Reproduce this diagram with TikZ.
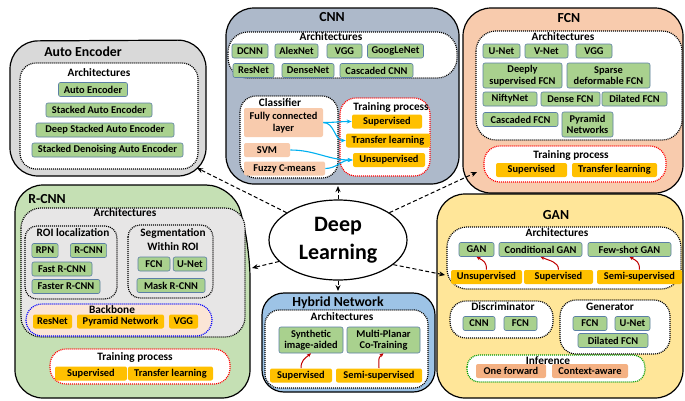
\documentclass[tikz,border=0pt]{standalone}
\usepackage{fontspec}
\setmainfont{Carlito}
\usetikzlibrary{arrows.meta,shapes.geometric}
\definecolor{aegrey}{HTML}{D9D9D9}
\definecolor{cnnblue}{HTML}{ADB9CA}
\definecolor{fcnpeach}{HTML}{F8CBAD}
\definecolor{rcnngreen}{HTML}{C5E0B4}
\definecolor{hybblue}{HTML}{9DC3E6}
\definecolor{ganyellow}{HTML}{FFE699}
\definecolor{boxgreen}{HTML}{A9D18E}
\definecolor{boxedge}{HTML}{5B7FA6}
\definecolor{boxorange}{HTML}{FFC000}
\definecolor{boxpeach}{HTML}{F8CBAD}
\definecolor{boxsalmon}{HTML}{F4B183}
\definecolor{roigrey}{HTML}{E7E6E6}
\definecolor{bbpeach}{HTML}{FBE5D6}
\definecolor{arrblue}{HTML}{00B0F0}
\definecolor{arrred}{HTML}{C00000}
\begin{document}
\begin{tikzpicture}[x=1pt, y=-1pt,
  blob/.style={draw=black, line width=1.2pt, rounded corners=28pt},
  region/.style={draw=black, line width=1.2pt, dash pattern=on 1pt off 1pt, fill=white, rounded corners=16pt},
  grn/.style={fill=boxgreen, draw=boxedge, line width=0.6pt, rounded corners=2pt, inner xsep=4pt, inner ysep=1.5pt, minimum height=14pt, align=center, font=\bfseries\fontsize{10.4}{11.5}\selectfont},
  org/.style={grn, draw=none, fill=boxorange},
  pch/.style={grn, draw=none, fill=boxpeach},
  sal/.style={grn, draw=none, fill=boxsalmon},
  ttl/.style={inner sep=0pt, align=center, font=\bfseries\fontsize{11.3}{14}\selectfont},
  bigttl/.style={inner sep=0pt, font=\bfseries\fontsize{13.8}{15}\selectfont},
  dlarr/.style={line width=1pt, dash pattern=on 4pt off 2.5pt, -{Stealth[length=6pt,width=5pt]}},
  bluearr/.style={arrblue, line width=1.1pt, -{Stealth[length=5pt,width=4pt]}},
  redarr/.style={arrred, line width=1pt, -{Stealth[length=4pt,width=3.5pt]}}]
\useasboundingbox (0,0) rectangle (685,400);
% blobs
\draw[blob, fill=aegrey] (10,41) -- (206,40) -- (206,176) -- (10,176) -- cycle;
\draw[blob, fill=cnnblue] (226,8) -- (459,8) -- (459,184) -- (226,184) -- cycle;
\draw[blob, fill=fcnpeach] (463,8) -- (683,8) -- (683,193) -- (463,193) -- cycle;
\draw[blob, fill=rcnngreen] (15,185) -- (234,185) -- (250,250) -- (250,398) -- (15,398) -- cycle;
\draw[blob, fill=hybblue, rounded corners=22pt] (262,293) -- (435,293) -- (435,392) -- (262,392) -- cycle;
\draw[blob, fill=ganyellow] (437,194) -- (683,194) -- (683,398) -- (437,398) -- cycle;
% dotted regions
\draw[region] (20,63) rectangle (198,169);
\draw[region, rounded corners=20pt] (228,32) rectangle (457,78);
\draw[region] (240,96) rectangle (338,178);
\draw[region, draw=red] (340,98) rectangle (430,176);
\draw[region, rounded corners=20pt] (476,31) rectangle (682,140);
\draw[region, draw=red] (484,146) rectangle (666,182);
\draw[region, fill=roigrey, rounded corners=20pt] (21,208) rectangle (245,337);
\draw[region, fill=roigrey, rounded corners=12pt] (25,226) rectangle (117,299);
\draw[region, fill=roigrey, rounded corners=12pt] (128,225) rectangle (213,298);
\draw[region, fill=bbpeach, draw=blue] (26,304) rectangle (212,336);
\draw[region, draw=red] (50,349) rectangle (230,384);
\draw[region, rounded corners=14pt] (265,310) rectangle (428,388);
\draw[region, rounded corners=20pt] (447,227) rectangle (681,289);
\draw[region] (450,301) rectangle (553,338);
\draw[region] (560,300) rectangle (670,354);
\draw[region, draw=green!60!black, rounded corners=12pt] (467,355) rectangle (645,382);
% Auto Encoder
\node[bigttl] (ae0) at (83,52) {Auto Encoder};
\node[ttl] (aeA) at (99,73) {Architectures};
\node[grn, minimum width=69pt] (ae1) at (93,89.5) {Auto Encoder};
\node[grn, minimum width=106pt] (ae2) at (99,110) {Stacked Auto Encoder};
\node[grn, minimum width=138pt] (ae3) at (105,130) {Deep Stacked Auto Encoder};
\node[grn, minimum width=151pt] (ae4) at (107.5,150) {Stacked Denoising Auto Encoder};
% CNN
\node[bigttl] (cnn0) at (332,17) {CNN};
\node[ttl] (cnnA) at (331,37) {Architectures};
\node[grn, minimum width=36pt] (cnn1) at (250,51) {DCNN};
\node[grn, minimum width=43pt] (cnn2) at (296.5,51) {AlexNet};
\node[grn, minimum width=35pt] (cnn3) at (344.5,51) {VGG};
\node[grn, minimum width=55pt] (cnn4) at (395.5,51) {GoogLeNet};
\node[grn, minimum width=41pt] (cnn5) at (253.5,70.5) {ResNet};
\node[grn, minimum width=52pt] (cnn6) at (308,70.5) {DenseNet};
\node[grn, minimum width=73pt] (cnn7) at (376.5,70.5) {Cascaded CNN};
\node[ttl] (clsA) at (280,103) {Classifier};
\node[pch, minimum width=79pt, minimum height=29pt] (cls1) at (283.5,122.5) {Fully connected\\layer};
\node[pch, minimum width=46pt] (cls2) at (267,150) {SVM};
\node[pch, minimum width=81pt] (cls3) at (284.5,168.5) {Fuzzy C-means};
\node[ttl] (trA) at (391,107) {Training process};
\node[org, minimum width=70pt] (tr1) at (387,121.5) {Supervised};
\node[org, minimum width=84pt] (tr2) at (388,140.5) {Transfer learning};
\node[org, minimum width=72pt] (tr3) at (389,160) {Unsupervised};
\draw[bluearr] (cls1.east) to[out=0,in=180] (tr1.west);
\draw[bluearr] (cls1.east) to[out=0,in=180] (tr2.west);
\draw[bluearr] (cls2.east) to[out=0,in=180] (tr3.west);
\draw[bluearr] (cls3.east) to[out=0,in=180] (tr3.west);
% FCN
\node[bigttl] (fcn0) at (569,18) {FCN};
\node[ttl] (fcnA) at (563,37) {Architectures};
\node[grn, minimum width=37pt] (fcn1) at (501.5,51) {U-Net};
\node[grn, minimum width=43pt] (fcn2) at (546.5,51) {V-Net};
\node[grn, minimum width=36pt] (fcn3) at (594,51) {VGG};
\node[grn, minimum width=79pt, minimum height=25pt] (fcn4) at (522.5,75.5) {Deeply\\supervised FCN};
\node[grn, minimum width=83pt, minimum height=25pt] (fcn5) at (608.5,75.5) {Sparse\\deformable FCN};
\node[grn, minimum width=54pt] (fcn6) at (510,99) {NiftyNet};
\node[grn, minimum width=59pt] (fcn7) at (570.5,99) {Dense FCN};
\node[grn, minimum width=65pt] (fcn8) at (634.5,99) {Dilated FCN};
\node[grn, minimum width=75pt] (fcn9) at (520.5,119.5) {Cascaded FCN};
\node[grn, minimum width=51pt, minimum height=25pt] (fcn10) at (587.5,124.5) {Pyramid\\Networks};
\node[ttl] (ftrA) at (571,155) {Training process};
\node[org, minimum width=71pt] (ftr1) at (531.5,170) {Supervised};
\node[org, minimum width=85pt] (ftr2) at (614.5,170) {Transfer learning};
% R-CNN
\node[bigttl] (rc0) at (47,199) {R-CNN};
\node[ttl] (rcA) at (125,213) {Architectures};
\node[ttl] (roiA) at (73,233) {ROI localization};
\node[grn, minimum width=26pt] (roi1) at (45,250.5) {RPN};
\node[grn, minimum width=33pt] (roi2) at (88.5,250.5) {R-CNN};
\node[grn, minimum width=60pt] (roi3) at (62,269) {Fast R-CNN};
\node[grn, minimum width=68pt] (roi4) at (66,286.5) {Faster R-CNN};
\node[ttl] (segA) at (173,240) {Segmentation\\Within ROI};
\node[grn, minimum width=32pt] (seg1) at (154,264) {FCN};
\node[grn, minimum width=30pt] (seg2) at (190,264) {U-Net};
\node[grn, minimum width=68pt] (seg3) at (171,285.5) {Mask R-CNN};
\node[ttl] (bbA) at (112,310) {Backbone};
\node[org, minimum width=39pt] (bb1) at (52.5,321.5) {ResNet};
\node[org, minimum width=87pt] (bb2) at (120.5,321.5) {Pyramid Network};
\node[org, minimum width=29pt] (bb3) at (183.5,321.5) {VGG};
\node[ttl] (rtrA) at (135,357) {Training process};
\node[org, minimum width=72pt] (rtr1) at (91,373.5) {Supervised};
\node[org, minimum width=85pt] (rtr2) at (170.5,373.5) {Transfer learning};
% Hybrid Network
\node[bigttl] (hy0) at (338,303) {Hybrid Network};
\node[ttl] (hyA) at (342,317) {Architectures};
\node[grn, minimum width=64pt, minimum height=26pt] (hy1) at (311,340) {Synthetic\\image-aided};
\node[grn, minimum width=73pt, minimum height=26pt] (hy2) at (383.5,340) {Multi-Planar\\Co-Training};
\node[org, minimum width=62pt] (hs1) at (301,375.5) {Supervised};
\node[org, minimum width=86pt] (hs2) at (379,375.5) {Semi-supervised};
\draw[redarr] (hs1.north) .. controls +(0,-8) and +(-6,5) .. (hy1.south);
\draw[redarr] (hs2.north) .. controls +(0,-8) and +(-6,5) .. (hy2.south);
% GAN
\node[bigttl] (gan0) at (556,215) {GAN};
\node[ttl] (ganA) at (557,233) {Architectures};
\node[grn, minimum width=35pt] (gan1) at (476.5,249.5) {GAN};
\node[grn, minimum width=83pt] (gan2) at (540.5,249.5) {Conditional GAN};
\node[grn, minimum width=83pt] (gan3) at (629.5,249.5) {Few-shot GAN};
\node[org, minimum width=71pt] (gs1) at (486.5,277) {Unsupervised};
\node[org, minimum width=69pt] (gs2) at (558.5,277) {Supervised};
\node[org, minimum width=85pt] (gs3) at (639.5,277) {Semi-supervised};
\draw[redarr] (gs1.north) .. controls +(0,-8) and +(7,4) .. (gan1.south);
\draw[redarr] (gs2.north) .. controls +(0,-8) and +(9,4) .. (gan2.south);
\draw[redarr] (gs3.north) .. controls +(0,-8) and +(7,4) .. (gan3.south);
\node[ttl] (disA) at (503,307) {Discriminator};
\node[grn, minimum width=32pt] (dis1) at (479,323.5) {CNN};
\node[grn, minimum width=33pt] (dis2) at (520.5,323.5) {FCN};
\node[ttl] (genA) at (610,307) {Generator};
\node[grn, minimum width=34pt] (gen1) at (590,323.5) {FCN};
\node[grn, minimum width=35pt] (gen2) at (632.5,323.5) {U-Net};
\node[grn, minimum width=70pt] (gen3) at (613,340.5) {Dilated FCN};
\node[ttl] (infA) at (548,361) {Inference};
\node[sal, minimum width=70pt] (inf1) at (511,371) {One forward};
\node[sal, minimum width=76pt] (inf2) at (590,371) {Context-aware};
% Deep Learning
\node[ellipse, draw, line width=1.2pt, fill=white, minimum width=138pt, minimum height=80pt, inner sep=0pt, align=center, font=\bfseries\fontsize{22}{28}\selectfont] (dl) at (338,240) {Deep\\Learning};
\coordinate (toae) at (197,168);
\coordinate (tocnn) at (338,186);
\coordinate (tofcn) at (477,172);
\coordinate (torcnn) at (252,268);
\coordinate (tohy) at (338,291);
\coordinate (togan) at (445,275);
\draw[dlarr] (dl.152) -- (toae);
\draw[dlarr] (dl.north) -- (tocnn);
\draw[dlarr] (dl.28) -- (tofcn);
\draw[dlarr] (dl.200) -- (torcnn);
\draw[dlarr] (dl.south) -- (tohy);
\draw[dlarr] (dl.336) -- (togan);
\end{tikzpicture}
\end{document}
